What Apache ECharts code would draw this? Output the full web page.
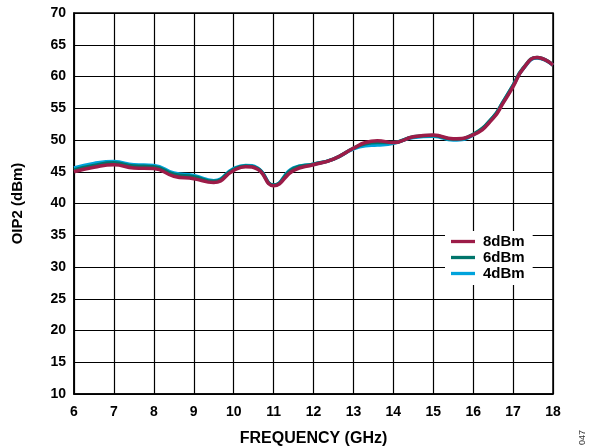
<!DOCTYPE html>
<html><head><meta charset="utf-8">
<script src="https://cdn.jsdelivr.net/npm/echarts@6/dist/echarts.min.js"></script>
<style>html,body{margin:0;padding:0;background:#fff}#c{width:595px;height:447px}</style>
</head><body><div id="c"></div>
<script>
var freq = [6, 6.5, 7, 7.5, 8, 8.5, 9, 9.5, 10, 10.3, 10.6, 11, 11.5, 12, 12.5, 13, 13.3, 13.6, 14, 14.5, 15, 15.5, 16, 16.5, 16.75, 17, 17.25, 17.6, 18];
var s8dBm = [45.0, 45.7, 46.1, 45.6, 45.5, 44.3, 43.9, 43.3, 45.2, 45.8, 45.4, 42.8, 45.2, 46.1, 47.0, 48.7, 49.6, 49.9, 49.6, 50.5, 50.8, 50.2, 50.8, 53.4, 55.8, 58.4, 61.2, 63.0, 61.8];
var s6dBm = [45.3, 46.0, 46.4, 45.9, 45.8, 44.6, 44.2, 43.5, 45.4, 45.9, 45.5, 42.9, 45.5, 46.2, 47.0, 48.7, 49.4, 49.6, 49.6, 50.5, 50.7, 50.1, 50.9, 53.6, 56.0, 58.6, 61.3, 63.0, 61.8];
var s4dBm = [45.6, 46.3, 46.6, 46.1, 46.0, 44.8, 44.4, 43.6, 45.5, 46.0, 45.6, 42.9, 45.6, 46.2, 47.0, 48.6, 49.1, 49.2, 49.5, 50.4, 50.6, 50.0, 50.8, 53.6, 56.0, 58.6, 61.2, 62.9, 61.8];
var seriesNames = ['8dBm', '6dBm', '4dBm'];
var xTicks = [6, 7, 8, 9, 10, 11, 12, 13, 14, 15, 16, 17, 18];
var yTicks = [10, 15, 20, 25, 30, 35, 40, 45, 50, 55, 60, 65, 70];

function pairs(v){ return freq.map(function(f,i){ return [f, v[i]]; }); }
var colors = {'8dBm':'#9c1c48','6dBm':'#00756b','4dBm':'#00a3dc'};
var font = 'Arial, "Liberation Sans", sans-serif';
var chart = echarts.init(document.getElementById('c'), null, {renderer:'canvas'});
function mk(name, data, z){
  return {name:name, type:'line', smooth:0.5, showSymbol:false, symbol:'none', z:z,
    data:pairs(data), lineStyle:{color:colors[name], width:3.5}, itemStyle:{color:colors[name]}};
}
chart.setOption({
  animation:false,
  backgroundColor:'#fff',
  grid:{left:74, right:42, top:13, bottom:53, show:true, borderColor:'#000', borderWidth:1.5,
    backgroundColor:'transparent', containLabel:false, outerBoundsMode:'none'},
  xAxis:{type:'value', min:xTicks[0], max:xTicks[xTicks.length-1], interval:1,
    name:'FREQUENCY (GHz)', nameLocation:'middle', nameGap:37,
    nameTextStyle:{fontFamily:font, fontWeight:'bold', fontSize:16, color:'#000'},
    axisLine:{show:true, lineStyle:{color:'#000', width:1.5}},
    axisTick:{show:false},
    axisLabel:{fontFamily:font, fontWeight:'bold', fontSize:14, color:'#000', margin:11},
    splitLine:{show:true, lineStyle:{color:'#000', width:1.2}}},
  yAxis:{type:'value', min:yTicks[0], max:yTicks[yTicks.length-1], interval:5,
    name:'OIP2 (dBm)', nameLocation:'middle', nameGap:49, nameRotate:90,
    nameTextStyle:{fontFamily:font, fontWeight:'bold', fontSize:15, color:'#000'},
    axisLine:{show:true, lineStyle:{color:'#000', width:1.5}},
    axisTick:{show:false},
    axisLabel:{fontFamily:font, fontWeight:'bold', fontSize:14, color:'#000', margin:8},
    splitLine:{show:true, lineStyle:{color:'#000', width:1.2}}},
  legend:{data:seriesNames, orient:'vertical', left:445, top:231, width:90,
    backgroundColor:'#fff', padding:[3,8,4,6], itemGap:1, itemWidth:24, itemHeight:15,
    icon:'path://M0,6 L24,6 L24,9.3 L0,9.3 Z',
    textStyle:{fontFamily:font, fontWeight:'bold', fontSize:15, lineHeight:15, color:'#000', padding:[0,0,0,3]}},
  graphic:[{type:'text', left:578, top:430, rotation:Math.PI/2,
    style:{text:'047', fontFamily:font, fontSize:9, fill:'#333'}}],
  series:[mk('4dBm', s4dBm, 2), mk('6dBm', s6dBm, 3), mk('8dBm', s8dBm, 4)]
});
</script></body></html>
